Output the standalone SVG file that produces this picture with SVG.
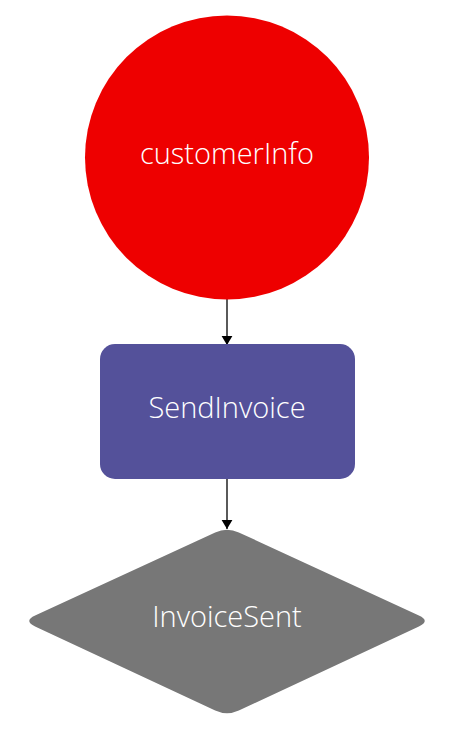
<svg xmlns="http://www.w3.org/2000/svg" width="455" height="737" viewBox="0 0 455 737">
<style>
.lbl{font-family:"Open Sans","Noto Sans","Liberation Sans",sans-serif;font-size:29px;font-weight:300;fill:#ffffff;text-anchor:middle}
.edge{stroke:#000;stroke-width:1.3;fill:none}
</style>
<defs>
<marker id="arr" viewBox="0 0 10 12" refX="10" refY="6" markerWidth="9" markerHeight="12" markerUnits="userSpaceOnUse" orient="auto">
<path d="M0,0 L10,6 L0,12 z" fill="#000"/>
</marker>
</defs>
<rect width="455" height="737" fill="#ffffff"/>
<g id="connectors">
<line class="edge" x1="227" y1="299" x2="227" y2="345" marker-end="url(#arr)"/>
<line class="edge" x1="227" y1="479" x2="227" y2="529" marker-end="url(#arr)"/>
</g>
<g id="customerInfo">
<circle cx="227" cy="157.5" r="142" fill="#ee0000"/>
<text class="lbl" x="227" y="164">customerInfo</text>
</g>
<g id="SendInvoice">
<rect x="100" y="344" width="255" height="135" rx="15" fill="#54519a"/>
<text class="lbl" x="227" y="418">SendInvoice</text>
</g>
<g id="InvoiceSent">
<path d="M215.2,532.4 Q227,527 238.8,532.4 L418.9,615.6 Q430.6,621 418.9,626.4 L238.8,710.6 Q227,716 215.2,710.6 L35.1,626.4 Q23.4,621 35.1,615.6 Z" fill="#777777"/>
<text class="lbl" x="227" y="627">InvoiceSent</text>
</g>
</svg>
